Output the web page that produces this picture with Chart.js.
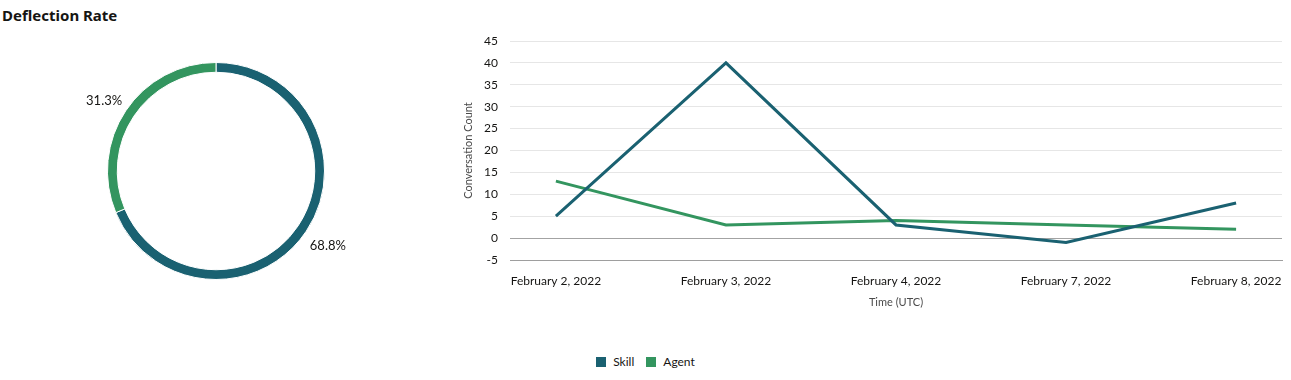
<!DOCTYPE html>
<html>
<head>
<meta charset="utf-8">
<script src="https://cdn.jsdelivr.net/npm/chart.js@4"></script>
<style>
  body { margin: 0; background: #fff; font-family: Lato, "Noto Sans", sans-serif; }
  #wrap { position: relative; width: 1291px; height: 380px; overflow: hidden; }
  #title { position: absolute; left: 2px; top: 5px; font: bold 15px "Noto Sans", sans-serif; color: #161513; }
  #donut-box { position: absolute; left: 0; top: 30px; width: 432px; height: 282px; }
  #line-box { position: absolute; left: 440px; top: 0; width: 851px; height: 320px; }
  #legend { position: absolute; left: 0; top: 354px; width: 1291px; display: flex; justify-content: center; gap: 12px; font: 12px Lato, sans-serif; color: #161513; }
  #legend span.item { display: flex; align-items: center; }
  #legend i { display: inline-block; width: 10px; height: 10px; margin-right: 7px; }
</style>
</head>
<body>
<div id="wrap">
  <div id="title">Deflection Rate</div>
  <div id="donut-box"><canvas id="donut-chart"></canvas></div>
  <div id="line-box"><canvas id="line-chart"></canvas></div>
  <div id="legend"></div>
</div>
<script>
const seriesNames = ['Skill', 'Agent'];
const seriesColors = ['#1a6171', '#33955f'];
const deflectionShare = [68.8, 31.3];

const dates = ['February 2, 2022', 'February 3, 2022', 'February 4, 2022', 'February 7, 2022', 'February 8, 2022'];
const skillCounts = [5, 40, 3, -1, 8];
const agentCounts = [13, 3, 4, 3, 2];

const yTicks = [-5, 0, 5, 10, 15, 20, 25, 30, 35, 40, 45];

Chart.defaults.font.family = 'Lato, "Noto Sans", sans-serif';
Chart.defaults.color = '#161513';

// legend shared by both charts
const legendEl = document.getElementById('legend');
seriesNames.forEach((name, i) => {
    const item = document.createElement('span');
    item.className = 'item';
    const box = document.createElement('i');
    box.style.background = seriesColors[i];
    item.appendChild(box);
    item.appendChild(document.createTextNode(name));
    legendEl.appendChild(item);
});

// percentages drawn outside the ring
const outsideLabels = {
    id: 'outsideLabels',
    afterDatasetsDraw(chart) {
        const ctx = chart.ctx;
        const meta = chart.getDatasetMeta(0);
        ctx.save();
        ctx.font = '13px Lato, "Noto Sans", sans-serif';
        ctx.fillStyle = '#161513';
        ctx.textAlign = 'center';
        ctx.textBaseline = 'middle';
        meta.data.forEach((arc, i) => {
            const mid = (arc.startAngle + arc.endAngle) / 2;
            const r = arc.outerRadius + 26;
            const x = arc.x + Math.cos(mid) * r;
            const y = arc.y + Math.sin(mid) * r;
            ctx.fillText(deflectionShare[i].toFixed(1) + '%', x, y + (i === 1 ? 4 : 0));
        });
        ctx.restore();
    }
};

new Chart(document.getElementById('donut-chart'), {
    type: 'doughnut',
    data: {
        labels: seriesNames,
        datasets: [{
            data: deflectionShare,
            backgroundColor: seriesColors,
            borderColor: '#fff',
            borderWidth: 1
        }]
    },
    options: {
        responsive: true,
        maintainAspectRatio: false,
        animation: false,
        cutout: '91%',
        layout: { padding: 32 },
        plugins: { legend: { display: false }, tooltip: { enabled: false } }
    },
    plugins: [outsideLabels]
});

new Chart(document.getElementById('line-chart'), {
    type: 'line',
    data: {
        datasets: [
            { label: seriesNames[0], data: skillCounts.map((v, i) => ({ x: i, y: v })), borderColor: seriesColors[0], backgroundColor: seriesColors[0] },
            { label: seriesNames[1], data: agentCounts.map((v, i) => ({ x: i, y: v })), borderColor: seriesColors[1], backgroundColor: seriesColors[1] }
        ]
    },
    options: {
        responsive: true,
        maintainAspectRatio: false,
        animation: false,
        layout: { padding: { top: 41, right: 9, bottom: 8, left: 22 } },
        elements: {
            line: { tension: 0, borderWidth: 3 },
            point: { radius: 0 }
        },
        scales: {
            x: {
                type: 'linear',
                min: -0.27,
                max: dates.length - 1 + 0.27,
                afterBuildTicks: s => { s.ticks = dates.map((d, i) => ({ value: i })); },
                afterFit: s => { s.height = 52; s.paddingLeft = 0; s.paddingRight = 0; },
                grid: { drawOnChartArea: false, drawTicks: false },
                border: { display: true, color: '#9e9e9e' },
                ticks: { padding: 14, font: { size: 12 }, maxRotation: 0, callback: v => dates[v] },
                title: { display: true, text: 'Time (UTC)', font: { size: 11 }, color: '#4a4a4a', padding: { top: 0, bottom: 3 } }
            },
            y: {
                min: -5,
                max: 45,
                afterBuildTicks: s => { s.ticks = yTicks.map(v => ({ value: v })); },
                afterFit: s => { s.width = 48; s.paddingTop = 0; s.paddingBottom = 0; },
                grid: {
                    drawTicks: false,
                    color: c => (c.tick && c.tick.value === 0) || (c.tick && c.tick.value === -5) ? '#a3a3a3' : '#e6e6e6'
                },
                border: { display: false },
                ticks: { padding: 12, font: { size: 12 } },
                title: { display: true, text: 'Conversation Count', font: { size: 11 }, color: '#4a4a4a', padding: 0 }
            }
        },
        plugins: { legend: { display: false }, tooltip: { enabled: false } }
    }
});
</script>
</body>
</html>
